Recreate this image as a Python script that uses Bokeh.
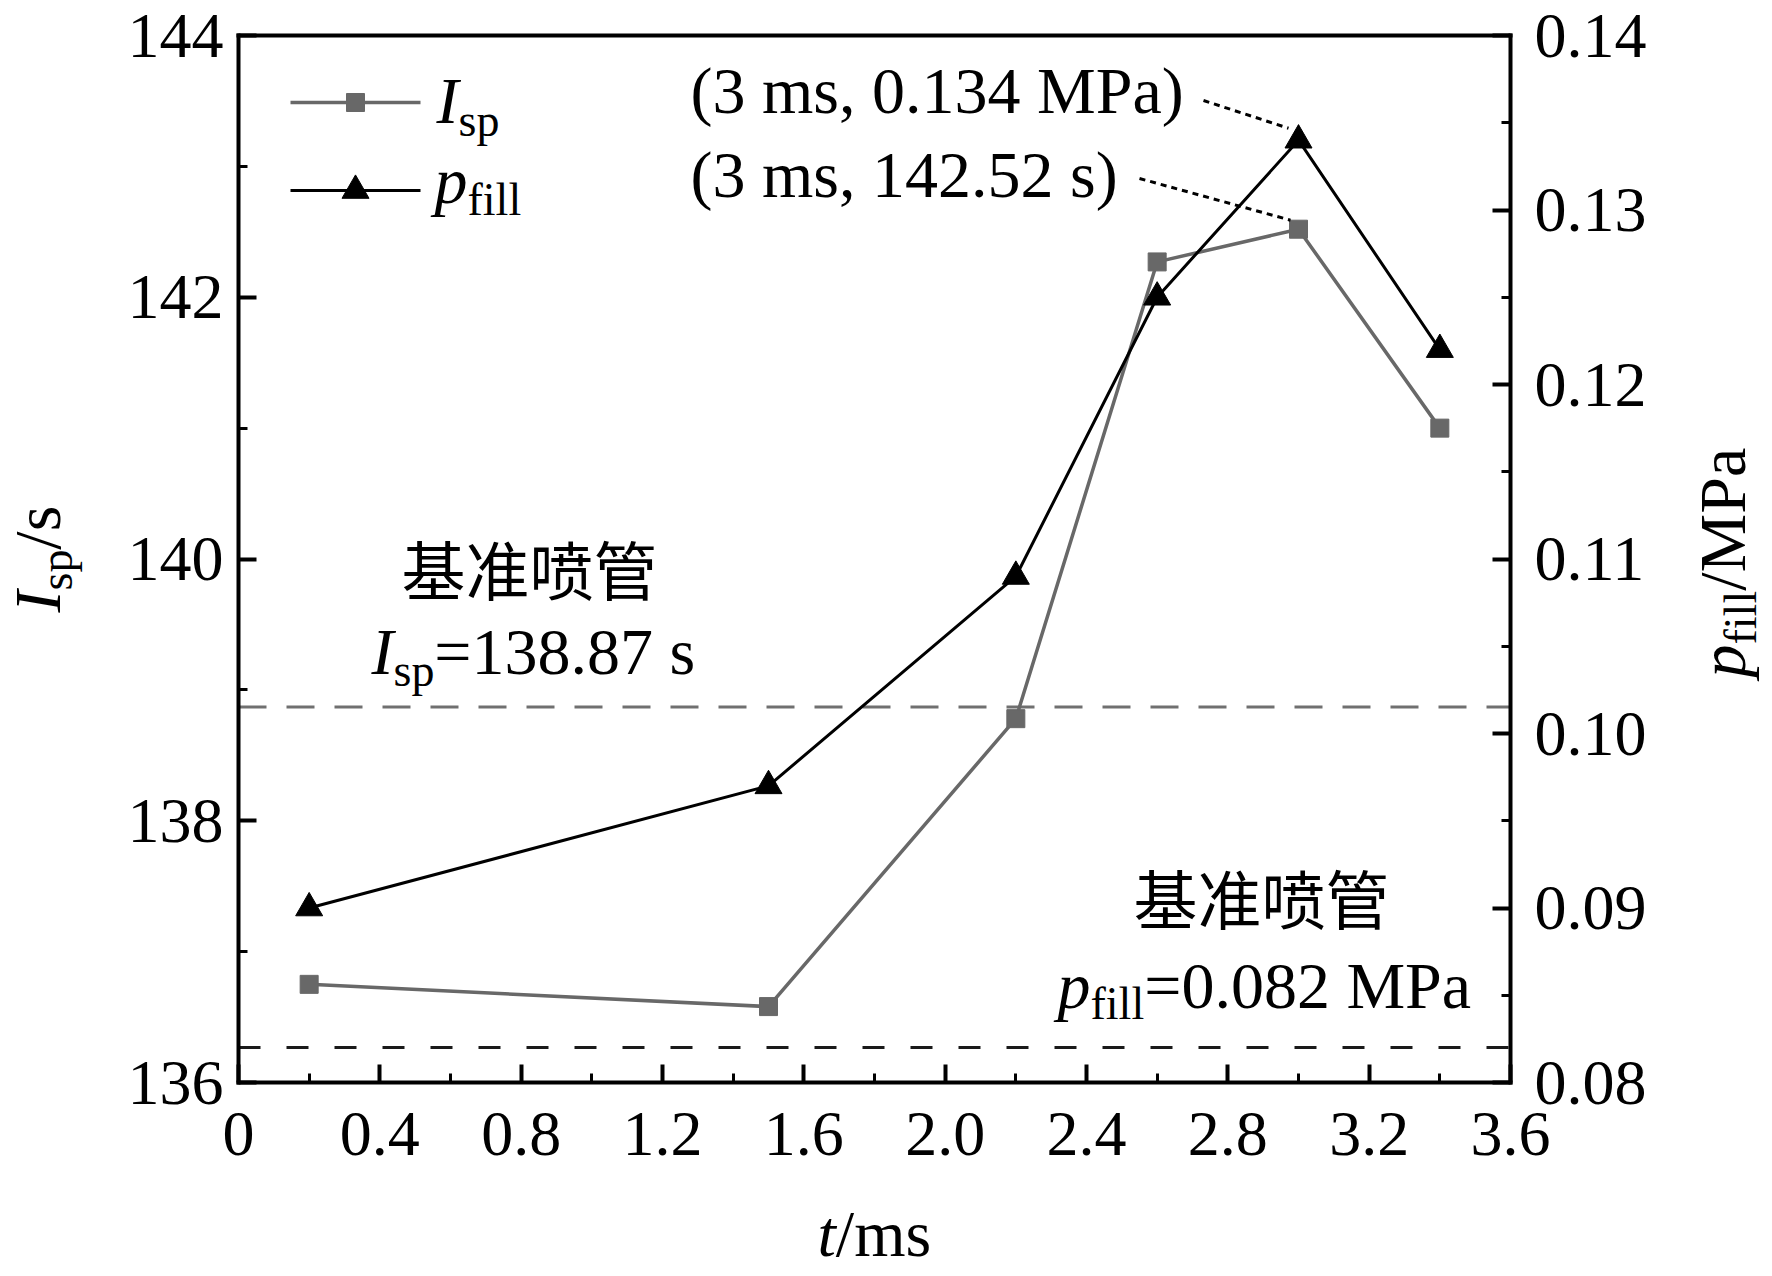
import math
from bokeh.plotting import figure
from bokeh.models import Range1d, LinearAxis, FixedTicker, CustomJSTickFormatter, Span, Label
from bokeh.embed import file_html
from bokeh.resources import INLINE

# ---------------- data ----------------
t_ms = [0.2, 1.5, 2.2, 2.6, 3.0, 3.4]
isp_s = [136.75, 136.58, 138.78, 142.27, 142.52, 141.0]
pfill_mpa = [0.090, 0.097, 0.109, 0.125, 0.134, 0.122]

isp_baseline = 138.87
pfill_baseline = 0.082

peak_t = 3.0
peak_isp = 142.52
peak_pfill = 0.134

x_ticks = [0.0, 0.4, 0.8, 1.2, 1.6, 2.0, 2.4, 2.8, 3.2, 3.6]
x_tick_labels = ["0", "0.4", "0.8", "1.2", "1.6", "2.0", "2.4", "2.8", "3.2", "3.6"]
x_minor = [0.2, 0.6, 1.0, 1.4, 1.8, 2.2, 2.6, 3.0, 3.4]
isp_ticks = [136, 138, 140, 142, 144]
isp_tick_labels = ["136", "138", "140", "142", "144"]
isp_minor = [137, 139, 141, 143]
pf_ticks = [0.08, 0.09, 0.10, 0.11, 0.12, 0.13, 0.14]
pf_tick_labels = ["0.08", "0.09", "0.10", "0.11", "0.12", "0.13", "0.14"]
pf_minor = [0.085, 0.095, 0.105, 0.115, 0.125, 0.135]

ref_title = "基准喷管"
ann_pf = "(3 ms, 0.134 MPa)"
ann_isp = "(3 ms, 142.52 s)"

# ---------------- layout ----------------
W, H = 1772, 1276
FL, FT, FW, FH = 238, 35, 1272, 1047      # plot box on the canvas (px)
X0, X1, Y0, Y1 = 0.0, 3.6, 136.0, 144.0
P0, P1 = 0.08, 0.14

GRAY = "#686868"
BLACK = "#000000"
SERIF = "Liberation Serif"
CJK = "Noto Sans CJK SC"
FS = 66
TICK_FS = 64
SUB = 46
MID = 0.338   # baseline distance below text middle, in em

# canvas px (top-left origin) -> data coords
def X(px):
    return X0 + (px - FL) / FW * (X1 - X0)

def Y(py):
    return Y1 - (py - FT) / FH * (Y1 - Y0)

def YP(py):
    return P1 - (py - FT) / FH * (P1 - P0)

def PX(x):
    return FL + (x - X0) / (X1 - X0) * FW

def PYP(v):
    return FT + (P1 - v) / (P1 - P0) * FH

def PYI(v):
    return FT + (Y1 - v) / (Y1 - Y0) * FH

EM = {" ": 0.25, "(": 0.333, ")": 0.333, ",": 0.25, ".": 0.25, "/": 0.278, "=": 0.564,
      "M": 0.889, "P": 0.556, "a": 0.444, "s": 0.389, "m": 0.778, "p": 0.5, "f": 0.333,
      "i": 0.278, "l": 0.278, "t": 0.278, "I": 0.333}

def tw(s, size):
    return sum(EM.get(c, 0.5) for c in s) * size

# the frame spans the whole canvas; axes are pinned to the plot box with fixed_location
p = figure(width=W, height=H, output_backend="svg", toolbar_location=None,
           x_range=Range1d(X(0), X(W)), y_range=Range1d(Y(H), Y(0)),
           min_border=0, min_border_left=0, min_border_right=0,
           min_border_top=0, min_border_bottom=0)
p.extra_y_ranges = {"right": Range1d(YP(H), YP(0))}
p.title.visible = False
p.xgrid.visible = False
p.ygrid.visible = False
p.outline_line_color = None
p.background_fill_color = "white"
p.border_fill_color = "white"

def style_axis(ax, ticks, minor, labels, standoff):
    ax.ticker = FixedTicker(ticks=ticks, minor_ticks=minor)
    ax.formatter = CustomJSTickFormatter(args=dict(tv=ticks, tl=labels), code="""
        let best = 0;
        for (let i = 0; i < tv.length; i++) {
            if (Math.abs(tv[i] - tick) < Math.abs(tv[best] - tick)) best = i;
        }
        return tl[best];
    """)
    ax.axis_line_width = 4
    ax.axis_line_color = BLACK
    ax.axis_line_cap = "square"
    ax.major_tick_in = 18
    ax.major_tick_out = 0
    ax.minor_tick_in = 9
    ax.minor_tick_out = 0
    ax.major_tick_line_width = 4
    ax.minor_tick_line_width = 3
    ax.major_tick_line_color = BLACK
    ax.minor_tick_line_color = BLACK
    ax.major_label_text_font = SERIF
    ax.major_label_text_font_size = f"{TICK_FS}px"
    ax.major_label_text_color = BLACK
    ax.major_label_standoff = standoff

xa = p.xaxis[0]
xa.fixed_location = Y0
xa.bounds = (X0, X1)
style_axis(xa, x_ticks, x_minor, x_tick_labels, 30)

ya = p.yaxis[0]
ya.fixed_location = X0
ya.bounds = (Y0, Y1)
style_axis(ya, isp_ticks, isp_minor, isp_tick_labels, 15)

ax2 = LinearAxis(y_range_name="right", fixed_location=X1, bounds=(P0, P1))
style_axis(ax2, pf_ticks, pf_minor, pf_tick_labels, 24)
p.add_layout(ax2, "right")

top = LinearAxis(fixed_location=Y1, bounds=(X0, X1))
top.ticker = FixedTicker(ticks=[], minor_ticks=[])
top.axis_line_width = 4
top.axis_line_color = BLACK
top.axis_line_cap = "square"
top.major_label_text_font_size = "0px"
top.major_tick_line_color = None
top.minor_tick_line_color = None
p.add_layout(top, "above")

# reference (baseline nozzle) lines, limited to the plot box
p.segment(x0=[X0], y0=[isp_baseline], x1=[X1], y1=[isp_baseline],
          line_color="#707070", line_width=3, line_dash="28 20")
p.segment(x0=[X0], y0=[pfill_baseline], x1=[X1], y1=[pfill_baseline], y_range_name="right",
          line_color="#1a1a1a", line_width=3, line_dash="22 26")

# series
p.line(t_ms, isp_s, line_color=GRAY, line_width=3.5)
p.scatter(t_ms, isp_s, marker="square", size=18, fill_color=GRAY, line_color=GRAY)
p.line(t_ms, pfill_mpa, y_range_name="right", line_color=BLACK, line_width=3)
p.scatter(t_ms, pfill_mpa, y_range_name="right", marker="triangle", size=27,
          fill_color=BLACK, line_color=BLACK)

# leader lines for peak annotations
pk_x = PX(peak_t)
p.line([X(1203), X(pk_x - 10)], [YP(100), YP(PYP(peak_pfill) - 12)], y_range_name="right",
       line_color=BLACK, line_width=3, line_dash="6 5")
p.line([X(1139), X(pk_x - 8)], [Y(178), Y(PYI(peak_isp) - 9)],
       line_color=BLACK, line_width=3, line_dash="6 5")

# legend (manual)
ROW1, ROW2 = 102, 190
LX0, LX1, LXM = 290, 420, 355
p.segment(x0=[X(LX0)], y0=[Y(ROW1)], x1=[X(LX1)], y1=[Y(ROW1)], line_color=GRAY, line_width=3.5)
p.scatter([X(LXM)], [Y(ROW1)], marker="square", size=18, fill_color=GRAY, line_color=GRAY)
p.segment(x0=[X(LX0)], y0=[Y(ROW2)], x1=[X(LX1)], y1=[Y(ROW2)], line_color=BLACK, line_width=3)
p.scatter([X(LXM)], [Y(ROW2)], marker="triangle", size=27, fill_color=BLACK, line_color=BLACK)

def rich(pieces, x0, y0, angle=0.0):
    """pieces: (text, size, italic, drop); (x0, y0) = canvas px of the baseline start"""
    adv = 0.0
    for text, size, italic, drop in pieces:
        if angle == 0.0:
            px, py = x0 + adv, y0 + drop - MID * size
        else:
            px, py = x0 + drop - MID * size, y0 - adv
        p.add_layout(Label(x=X(px), y=Y(py), text=text, text_font=SERIF,
                           text_font_size=f"{size}px",
                           text_font_style="italic" if italic else "normal",
                           text_color=BLACK, text_align="left",
                           text_baseline="middle", angle=angle))
        adv += tw(text, size)

def cjk(text, cx, cy):
    p.add_layout(Label(x=X(cx), y=Y(cy), text=text, text_font=CJK,
                       text_font_size="64px", text_color=BLACK,
                       text_align="center", text_baseline="middle"))

# legend labels
rich([("I", FS, True, 0), ("sp", SUB, False, 14)], 436, ROW1 + 20)
rich([("p", FS, True, 0), ("fill", SUB, False, 13)], 434, ROW2 + 12)

# axis titles
rich([("t", FS, True, 0), ("/ms", FS, False, 0)], 817, 1255)
rich([("I", FS, True, 0), ("sp", SUB, False, 13), ("/s", FS, False, 0)], 59, 612, math.pi / 2)
rich([("p", FS, True, 0), ("fill", SUB, False, 12), ("/MPa", FS, False, 0)], 1744, 677, math.pi / 2)

# baseline annotations
cjk(ref_title, 529, 566)
rich([("I", FS, True, 0), ("sp", SUB, False, 13), ("=138.87 s", FS, False, 0)], 371, 673)
cjk(ref_title, 1261, 895)
rich([("p", FS, True, 0), ("fill", SUB, False, 12), ("=0.082 MPa", FS, False, 0)], 1057, 1007)

# peak annotations
rich([(ann_pf, FS, False, 0)], 690, 112)
rich([(ann_isp, FS, False, 0)], 690, 196)

open("out.html", "w").write(file_html(p, INLINE))
